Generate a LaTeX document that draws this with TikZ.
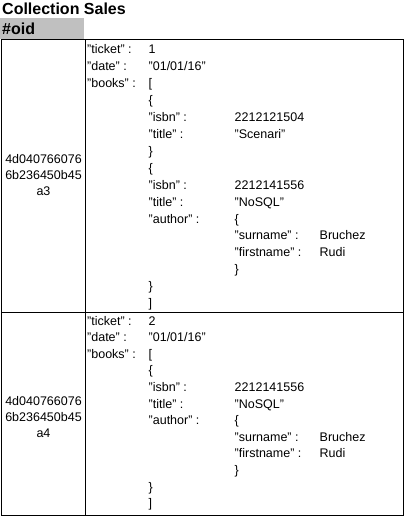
\documentclass[tikz,border=0pt]{standalone}
\usepackage{fontspec}
\setmainfont{Liberation Sans}
\definecolor{hdrgray}{HTML}{C0C0C0}
\tikzset{
  txt/.style={anchor=base west, inner sep=0pt, font=\fontsize{12.5}{14}\selectfont},
  oidtxt/.style={anchor=base, inner sep=0pt, font=\fontsize{12.5}{14}\selectfont},
  ttl/.style={anchor=base west, inner sep=0pt, font=\fontsize{16}{18}\selectfont\bfseries},
  grid/.style={draw=black, line width=1pt}
}
\begin{document}
\begin{tikzpicture}[x=1pt,y=-1pt]
\useasboundingbox (0,0) rectangle (405,518);
% header
\fill[hdrgray] (0,18) rectangle (84,39.5);
\node[ttl] (title) at (2,15) {Collection Sales};
\node[ttl] (oidh) at (2,35) {\#oid};
% table
\draw[grid] (1.5,39.5) rectangle (403.5,515.5);
\draw[grid] (85.5,39.5) -- (85.5,515.5);
\draw[grid] (1.5,312.5) -- (403.5,312.5);
% row 1 oid
\node[oidtxt] (o1a) at (43.5,163.3) {4d040766076};
\node[oidtxt] (o1b) at (43.5,179.3) {6b236450b45};
\node[oidtxt] (o1c) at (43.5,195.3) {a3};
% row 1 content
\def\ya{54}\def\s{16.9}
\foreach \k/\v/\c/\n in {
  {"ticket" :}/{1}/87/0,
  {"date" :}/{"01/01/16"}/87/1,
  {"books" :}/{[}/87/2}
  {\node[txt] at (\c,\ya+\n*\s) {\k};
   \node[txt] at (148.5,\ya+\n*\s) {\v};}
\foreach \t/\c/\n in {
  {\{}/148.5/3,
  {"isbn" :}/148.5/4, {2212121504}/234.5/4,
  {"title" :}/148.5/5, {"Scenari"}/234.5/5,
  {\}}/148.5/6,
  {\{}/148.5/7,
  {"isbn" :}/148.5/8, {2212141556}/234.5/8,
  {"title" :}/148.5/9, {"NoSQL"}/234.5/9,
  {"author" :}/148.5/10, {\{}/234.5/10,
  {"surname" :}/234.5/11, {Bruchez}/319.5/11,
  {"firstname" :}/234.5/12, {Rudi}/319.5/12,
  {\}}/234.5/13,
  {\}}/148.5/14,
  {]}/148.5/15}
  {\node[txt] at (\c,\ya+\n*\s) {\t};}
% row 2 oid
\node[oidtxt] (o2a) at (43.5,405) {4d040766076};
\node[oidtxt] (o2b) at (43.5,421) {6b236450b45};
\node[oidtxt] (o2c) at (43.5,437) {a4};
% row 2 content
\def\yb{325}\def\r{16.6}
\foreach \t/\c/\n in {
  {"ticket" :}/87/0, {2}/148.5/0,
  {"date" :}/87/1, {"01/01/16"}/148.5/1,
  {"books" :}/87/2, {[}/148.5/2,
  {\{}/148.5/3,
  {"isbn" :}/148.5/4, {2212141556}/234.5/4,
  {"title" :}/148.5/5, {"NoSQL"}/234.5/5,
  {"author" :}/148.5/6, {\{}/234.5/6,
  {"surname" :}/234.5/7, {Bruchez}/319.5/7,
  {"firstname" :}/234.5/8, {Rudi}/319.5/8,
  {\}}/234.5/9,
  {\}}/148.5/10,
  {]}/148.5/11}
  {\node[txt] at (\c,\yb+\n*\r) {\t};}
\end{tikzpicture}
\end{document}
